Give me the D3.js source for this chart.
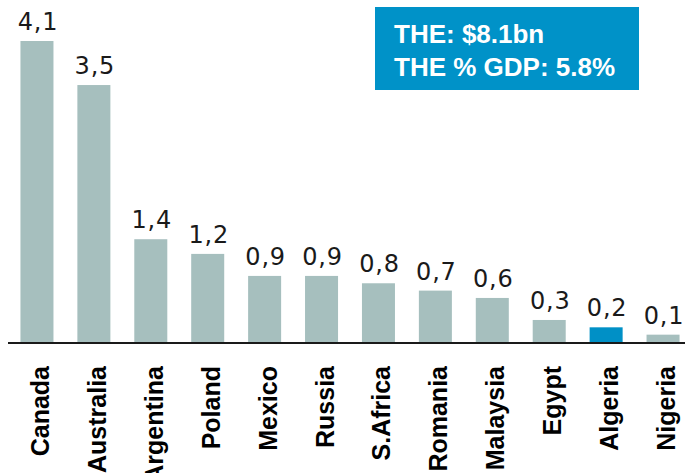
<!DOCTYPE html>
<html>
<head>
<meta charset="utf-8">
<script src="https://cdn.jsdelivr.net/npm/d3@7"></script>
<style>
  body { margin: 0; background: #fff; }
</style>
</head>
<body>
<div id="chart-area"></div>
<script>
const countries = ["Canada", "Australia", "Argentina", "Poland", "Mexico", "Russia", "S.Africa", "Romania", "Malaysia", "Egypt", "Algeria", "Nigeria"];
const values = [4.1, 3.5, 1.4, 1.2, 0.9, 0.9, 0.8, 0.7, 0.6, 0.3, 0.2, 0.1];
const highlight = "Algeria";
const boxLines = ["THE: $8.1bn", "THE % GDP: 5.8%"];

const width = 685, height = 473;
const baseY = 342;

const svg = d3.select("#chart-area")
    .append("svg")
    .attr("width", width)
    .attr("height", height);

const x = d3.scaleBand()
    .domain(countries)
    .range([8.5, 691.5])
    .paddingInner(0.42)
    .paddingOuter(0.21);

const y = d3.scaleLinear()
    .domain([0, 4.1])
    .range([baseY, 41]);

const data = countries.map((c, i) => ({ country: c, value: values[i] }));

// bars
svg.selectAll("rect.bar")
    .data(data)
    .enter()
    .append("rect")
    .attr("class", "bar")
    .attr("x", d => x(d.country))
    .attr("y", d => y(d.value))
    .attr("width", x.bandwidth())
    .attr("height", d => baseY - y(d.value))
    .attr("fill", d => d.country === highlight ? "#0090c6" : "#a6bfbe");

// value labels
svg.selectAll("text.val")
    .data(data)
    .enter()
    .append("text")
    .attr("class", "val")
    .attr("x", d => x(d.country) + x.bandwidth() / 2 + 1)
    .attr("y", d => y(d.value) - 11)
    .attr("text-anchor", "middle")
    .attr("font-family", "DejaVu Sans, Verdana, sans-serif")
    .attr("font-size", "24px")
    .attr("letter-spacing", "0.8px")
    .attr("fill", "#1a1a1a")
    .text(d => d3.format(".1f")(d.value).replace(".", ","));

// baseline
svg.append("line")
    .attr("x1", 8)
    .attr("x2", 685)
    .attr("y1", baseY + 1)
    .attr("y2", baseY + 1)
    .attr("stroke", "#1a1a1a")
    .attr("stroke-width", 2);

// category labels
const xAxisCall = d3.axisBottom(x).tickSize(0).tickPadding(0);
const xAxis = svg.append("g")
    .attr("transform", "translate(0, " + (baseY + 24) + ")")
    .call(xAxisCall);
xAxis.select(".domain").remove();
xAxis.selectAll("text")
    .attr("font-family", "Liberation Sans, Arial, sans-serif")
    .attr("font-weight", "bold")
    .attr("font-size", "25px")
    .attr("fill", "#000")
    .attr("text-anchor", "end")
    .attr("dy", "0")
    .attr("x", 0)
    .attr("y", 0)
    .attr("transform", "rotate(-90) translate(0, 12)");

// info box
svg.append("rect")
    .attr("x", 375)
    .attr("y", 7)
    .attr("width", 264)
    .attr("height", 83)
    .attr("fill", "#0092c8");

svg.selectAll("text.box")
    .data(boxLines)
    .enter()
    .append("text")
    .attr("class", "box")
    .attr("x", 394)
    .attr("y", (d, i) => 43 + i * 33)
    .attr("font-family", "Liberation Sans, Arial, sans-serif")
    .attr("font-weight", "bold")
    .attr("font-size", "26px")
    .attr("fill", "#fff")
    .text(d => d);
</script>
</body>
</html>
